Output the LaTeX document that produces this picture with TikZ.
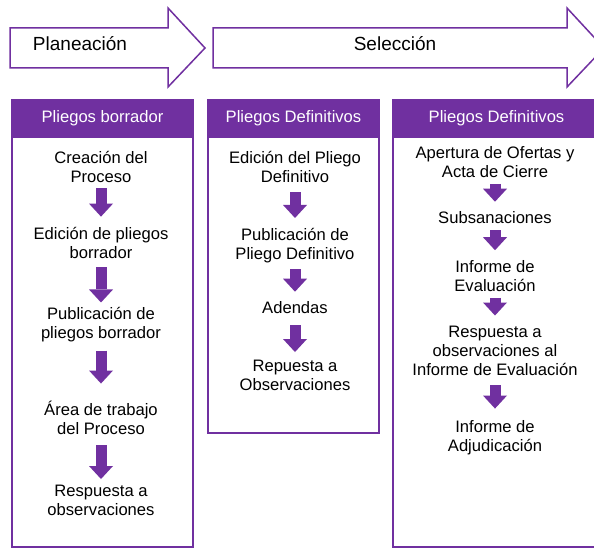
\documentclass[tikz,border=0pt]{standalone}
\usepackage{fontspec}
\setmainfont{Liberation Sans}
\usetikzlibrary{arrows.meta,positioning}
\definecolor{procpurple}{RGB}{112,48,160}

\begin{document}
\begin{tikzpicture}[x=1pt, y=-1pt,
    phase/.style={draw=procpurple, line width=1.5pt, fill=white},
    phasetext/.style={inner sep=0pt, font=\fontsize{19}{22}\selectfont},
    stage/.style={draw=procpurple, line width=1.6pt, fill=white},
    head/.style={fill=procpurple, draw=procpurple, line width=1.6pt, minimum height=37pt, inner sep=0pt, text=white, font=\fontsize{16.6}{19}\selectfont},
    task/.style={align=center, inner sep=0pt, font=\fontsize{16.6}{19}\selectfont},
    flow/.style={procpurple, line width=11pt, shorten <=6pt, shorten >=10pt, -{Triangle[length=13pt, width=24pt, line width=0pt]}}
]
\clip (0,0) rectangle (594,548);

% Phase arrows
\draw[phase] (10,28) -- (168,28) -- (168,8) -- (205,48) -- (168,87) -- (168,68) -- (10,68) -- cycle;
\node[phasetext] (planeacion) at (80,44) {Planeación};
\draw[phase] (213,28) -- (567,28) -- (567,8) -- (604,48) -- (567,87) -- (567,68) -- (213,68) -- cycle;
\node[phasetext] (seleccion) at (395,44) {Selección};

% Pliegos borrador
\draw[stage] (12,100) rectangle (193,547);
\node[head, minimum width=181pt] (h1) at (102.5,118.5) {Pliegos borrador};
\node[task] (c1a) at (101,166.5) {Creación del\\Proceso};
\node[task] (c1b) at (101,242.5) {Edición de pliegos\\borrador};
\node[task] (c1c) at (101,325) {Publicación de\\pliegos borrador};
\node[task] (c1d) at (101,417.5) {Área de trabajo\\del Proceso};
\node[task] (c1e) at (101,500.5) {Respuesta a\\observaciones};

\draw[flow] (c1a) -- (c1b);
\draw[flow, shorten <=9pt, shorten >=5pt] (c1b) -- (c1c);
\draw[flow, shorten <=8pt, shorten >=17pt] (c1c) -- (c1d);
\draw[flow, shorten <=11pt, shorten >=6pt] (c1d) -- (c1e);

% Pliegos definitivos
\draw[stage] (208,100) rectangle (379,433);
\node[head, minimum width=171pt] (h2) at (293.5,118.5) {Pliegos Definitivos};
\node[task] (c2a) at (295,166.5) {Edición del Pliego\\Definitivo};
\node[task] (c2b) at (295,245.5) {Publicación de\\Pliego Definitivo};
\node[task] (c2c) at (295,308) {Adendas};
\node[task] (c2d) at (295,375.5) {Repuesta a\\Observaciones};

\draw[flow, shorten <=10pt] (c2a) -- (c2b);
\draw[flow] (c2b) -- (c2c);
\draw[flow, shorten <=11pt, shorten >=8pt] (c2c) -- (c2d);

% Pliegos definitivos, evaluacion
\draw[stage] (393,100) rectangle (600,547);
\node[head, minimum width=207pt] (h3) at (496.5,118.5) {Pliegos Definitivos};
\node[task] (c3a) at (495,162) {Apertura de Ofertas y\\Acta de Cierre};
\node[task] (c3b) at (495,218) {Subsanaciones};
\node[task] (c3c) at (495,276) {Informe de\\Evaluación};
\node[task] (c3d) at (495,350.5) {Respuesta a\\observaciones al\\Informe de Evaluación};
\node[task] (c3e) at (495,438) {Informe de\\Adjudicación};

\draw[flow] (c3a) -- (c3b);
\draw[flow] (c3b) -- (c3c);
\draw[flow] (c3c) -- (c3d);
\draw[flow, shorten <=10pt, shorten >=12pt] (c3d) -- (c3e);
\end{tikzpicture}
\end{document}
